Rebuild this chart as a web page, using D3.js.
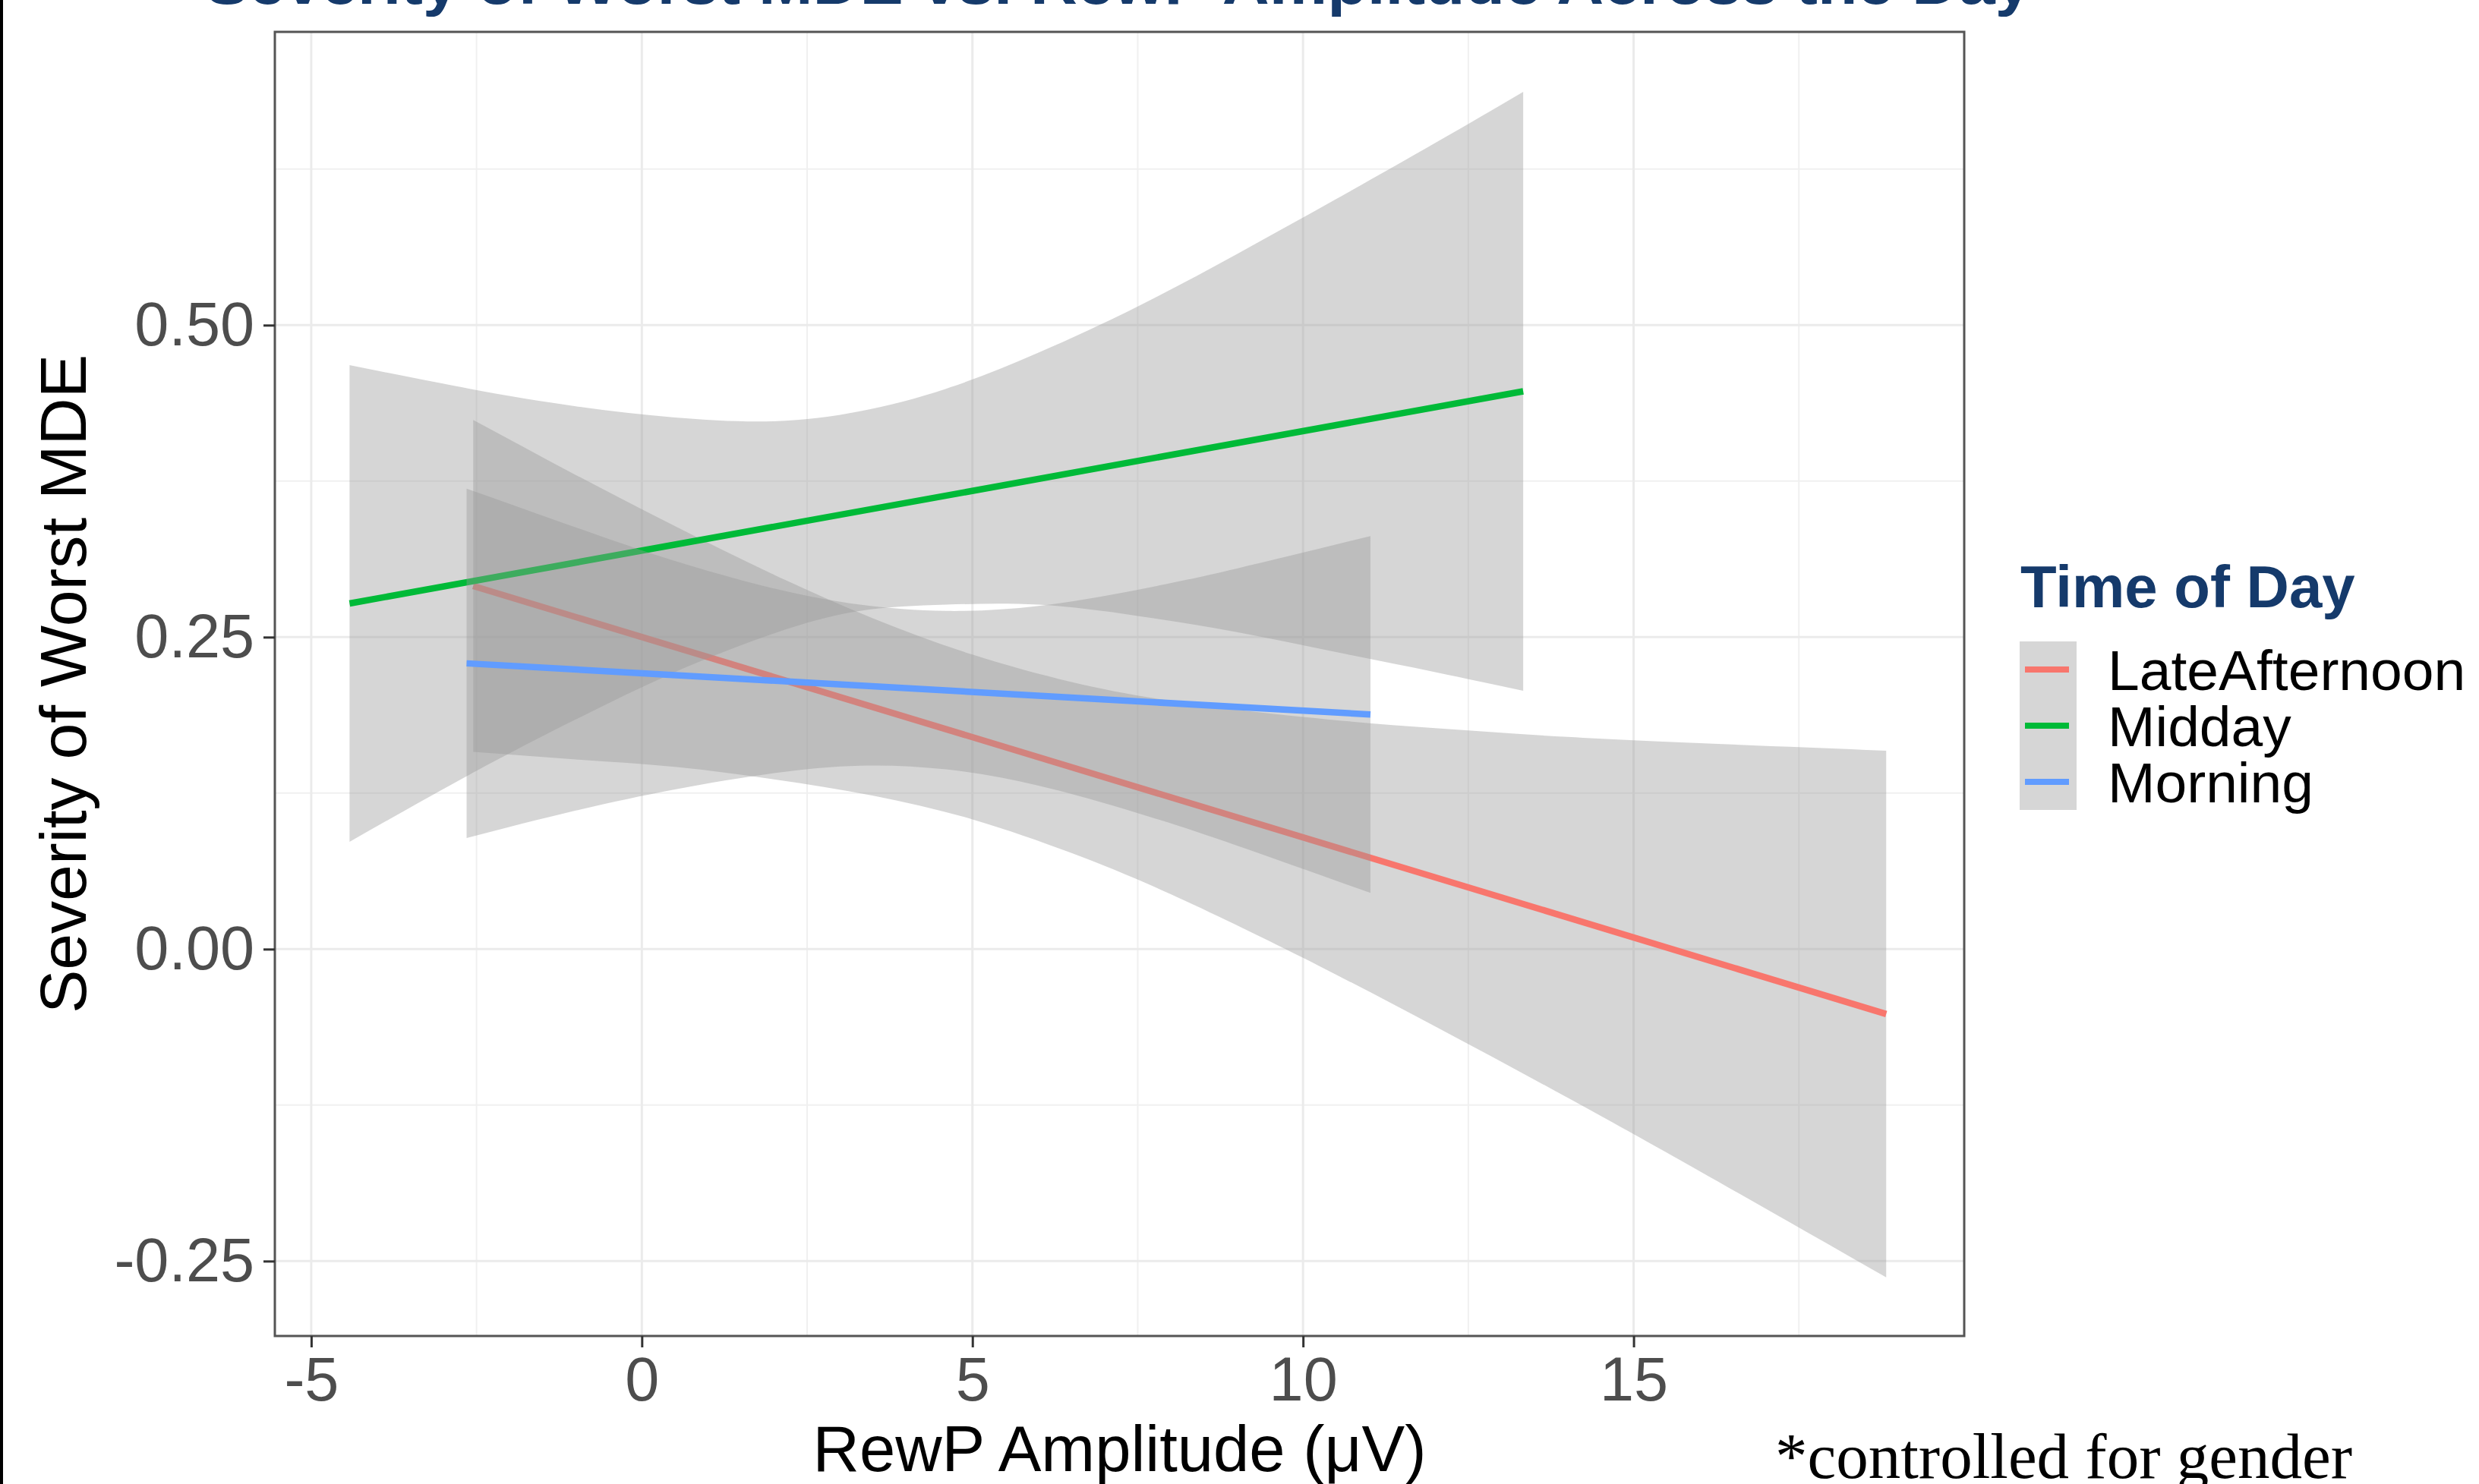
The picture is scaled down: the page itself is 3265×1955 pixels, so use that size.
<!DOCTYPE html>
<html lang="en">
<head>
  <meta charset="UTF-8">
  <title>Severity of Worst MDE vs RewP Amplitude</title>
  <script src="https://d3js.org/d3.v7.min.js"></script>
  <style>
    body {
      margin: 0;
      background: #fff;
      overflow: hidden;
    }

    svg {
      display: block;
      font-family: "Liberation Sans", Arial, sans-serif;
    }

    .grid-major { stroke: #ebebeb; stroke-width: 3; }
    .grid-minor { stroke: #f0f0f0; stroke-width: 2; }
    .ribbon { fill: #999; fill-opacity: 0.4; }
    .fit { fill: none; stroke-width: 8.5; }
  </style>
</head>
<body>
  <svg width="3265" height="1955"></svg>

  <script>
    // groups + colours (ggplot default hues)
    const groups = ["LateAfternoon", "Midday", "Morning"];
    const colors = ["#F8766D", "#00BA38", "#619CFF"];

    // tick values
    const xTicks = [-5, 0, 5, 10, 15];
    const xMinor = [-2.5, 2.5, 7.5, 12.5, 17.5];
    const yTicks = [-0.25, 0, 0.25, 0.5];
    const yMinor = [-0.125, 0.125, 0.375, 0.625];

    // fitted lines: [x, y] at both ends
    const lateLine = [[-2.55, 0.291], [18.82, -0.052]];
    const middayLine = [[-4.42, 0.277], [13.33, 0.447]];
    const morningLine = [[-2.65, 0.229], [11.02, 0.188]];

    // confidence ribbons: x, lower, upper
    const lateX  = [-2.55, -1.0, 0.5, 2.0, 3.5, 5.0, 6.5, 8.0, 10.0, 12.0, 14.0, 16.0, 18.82];
    const lateLo = [0.158, 0.152, 0.146, 0.136, 0.123, 0.104, 0.077, 0.044, -0.007, -0.062, -0.119, -0.178, -0.263];
    const lateHi = [0.424, 0.380, 0.339, 0.300, 0.265, 0.236, 0.214, 0.199, 0.186, 0.177, 0.170, 0.165, 0.159];

    const middayX  = [-4.42, -2.6, -1.0, 0.5, 2.0, 3.3, 4.6, 6.0, 7.5, 9.0, 10.5, 12.0, 13.33];
    const middayLo = [0.086, 0.140, 0.184, 0.222, 0.253, 0.271, 0.276, 0.276, 0.267, 0.254, 0.238, 0.222, 0.207];
    const middayHi = [0.468, 0.449, 0.435, 0.426, 0.423, 0.431, 0.449, 0.478, 0.515, 0.557, 0.601, 0.646, 0.687];

    const morningX  = [-2.65, -1.0, 0.5, 2.0, 3.3, 4.6, 6.0, 7.5, 9.0, 11.02];
    const morningLo = [0.089, 0.111, 0.128, 0.141, 0.147, 0.144, 0.131, 0.109, 0.083, 0.045];
    const morningHi = [0.369, 0.338, 0.311, 0.289, 0.276, 0.271, 0.275, 0.288, 0.305, 0.331];

    const series = [
      { line: lateLine, xs: lateX, lo: lateLo, hi: lateHi },
      { line: middayLine, xs: middayX, lo: middayLo, hi: middayHi },
      { line: morningLine, xs: morningX, lo: morningLo, hi: morningHi }
    ];

    const svg = d3.select("svg");

    // panel box
    const pLeft = 362, pRight = 2587, pTop = 42, pBottom = 1760;

    const x = d3.scaleLinear().domain([-5.55, 20.0]).range([pLeft, pRight]);
    const y = d3.scaleLinear().domain([-0.31, 0.735]).range([pBottom, pTop]);

    // thin black edge on the far left of the slide
    svg.append("rect").attr("x", 0).attr("y", 0).attr("width", 4).attr("height", 1955).attr("fill", "#000");

    // grid
    const grid = svg.append("g");
    grid.selectAll(".gxm").data(xMinor).join("line")
      .attr("class", "grid-minor")
      .attr("x1", d => x(d)).attr("x2", d => x(d))
      .attr("y1", pTop).attr("y2", pBottom);
    grid.selectAll(".gym").data(yMinor).join("line")
      .attr("class", "grid-minor")
      .attr("x1", pLeft).attr("x2", pRight)
      .attr("y1", d => y(d)).attr("y2", d => y(d));
    grid.selectAll(".gx").data(xTicks).join("line")
      .attr("class", "grid-major")
      .attr("x1", d => x(d)).attr("x2", d => x(d))
      .attr("y1", pTop).attr("y2", pBottom);
    grid.selectAll(".gy").data(yTicks).join("line")
      .attr("class", "grid-major")
      .attr("x1", pLeft).attr("x2", pRight)
      .attr("y1", d => y(d)).attr("y2", d => y(d));

    // ribbons + lines, one group at a time (same layering as ggplot)
    const area = d3.area()
      .x(d => x(d.x))
      .y0(d => y(d.lo))
      .y1(d => y(d.hi))
      .curve(d3.curveNatural);

    const line = d3.line().x(d => x(d[0])).y(d => y(d[1]));

    const plot = svg.append("g");
    series.forEach((s, i) => {
      const pts = s.xs.map((v, j) => ({ x: v, lo: s.lo[j], hi: s.hi[j] }));
      plot.append("path")
        .attr("class", "ribbon")
        .attr("d", area(pts));
      plot.append("path")
        .attr("class", "fit")
        .attr("stroke", colors[i])
        .attr("d", line(s.line));
    });

    // panel border
    svg.append("rect")
      .attr("x", pLeft).attr("y", pTop)
      .attr("width", pRight - pLeft).attr("height", pBottom - pTop)
      .attr("fill", "none").attr("stroke", "#555").attr("stroke-width", 3);

    // axes
    const xAxis = svg.append("g")
      .attr("transform", `translate(0,${pBottom})`)
      .call(d3.axisBottom(x).tickValues(xTicks).tickSize(15).tickPadding(12).tickFormat(d3.format("d")));
    const yAxis = svg.append("g")
      .attr("transform", `translate(${pLeft},0)`)
      .call(d3.axisLeft(y).tickValues(yTicks).tickSize(15).tickPadding(12).tickFormat(d3.format(".2f")));

    [xAxis, yAxis].forEach(g => {
      g.select(".domain").remove();
      g.selectAll(".tick line").attr("stroke", "#333").attr("stroke-width", 3);
      g.selectAll(".tick text")
        .attr("fill", "#4d4d4d")
        .attr("font-size", 81)
        .attr("font-family", "Liberation Sans, Arial, sans-serif");
    });
    // d3 uses the unicode minus; ggplot uses a hyphen
    xAxis.selectAll(".tick text").text(d => String(d));
    yAxis.selectAll(".tick text").text(d => d3.format(".2f")(d).replace("\u2212", "-"));

    // axis titles
    svg.append("text")
      .attr("x", (pLeft + pRight) / 2).attr("y", 1938)
      .attr("text-anchor", "middle")
      .attr("font-size", 85)
      .attr("fill", "#000")
      .text("RewP Amplitude (\u03bcV)");

    svg.append("text")
      .attr("transform", `translate(113,${(pTop + pBottom) / 2}) rotate(-90)`)
      .attr("text-anchor", "middle")
      .attr("font-size", 86)
      .attr("fill", "#000")
      .text("Severity of Worst MDE");

    // title, mostly cut off by the top edge
    svg.append("text")
      .attr("x", 1473).attr("y", 5)
      .attr("text-anchor", "middle")
      .attr("font-size", 80)
      .attr("font-weight", "bold")
      .attr("fill", "#153a6b")
      .attr("textLength", 2405)
      .attr("lengthAdjust", "spacingAndGlyphs")
      .text("Severity of Worst MDE vs. RewP Amplitude Across the Day");

    // legend
    const legend = svg.append("g").attr("transform", "translate(2660,0)");
    legend.append("text")
      .attr("x", 1).attr("y", 800)
      .attr("font-size", 78)
      .attr("font-weight", "bold")
      .attr("fill", "#153a6b")
      .text("Time of Day");

    const keyTop = 845, keyH = 74;
    groups.forEach((g, i) => {
      const ky = keyTop + i * keyH;
      legend.append("rect")
        .attr("x", 0).attr("y", ky)
        .attr("width", 75).attr("height", keyH)
        .attr("fill", "#d6d6d6");
      legend.append("line")
        .attr("x1", 7).attr("x2", 65)
        .attr("y1", ky + keyH / 2).attr("y2", ky + keyH / 2)
        .attr("stroke", colors[i]).attr("stroke-width", 8);
      legend.append("text")
        .attr("x", 116).attr("y", ky + keyH / 2 + 27)
        .attr("font-size", 75)
        .attr("fill", "#000")
        .text(g);
    });

    // footnote
    svg.append("text")
      .attr("x", 2338).attr("y", 1947)
      .attr("font-family", "Liberation Serif, Times New Roman, serif")
      .attr("font-size", 85)
      .attr("fill", "#000")
      .text("*controlled for gender");
  </script>
</body>
</html>
